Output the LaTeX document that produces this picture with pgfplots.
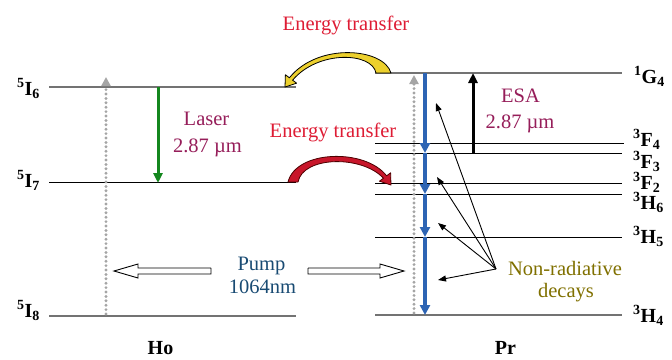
\documentclass[border=0pt]{standalone}
\usepackage{fontspec}
\setmainfont{Liberation Serif}
\usepackage{pgfplots}
\pgfplotsset{compat=1.18}
\usetikzlibrary{arrows.meta}

\definecolor{etred}{RGB}{222,28,52}
\definecolor{laserpurple}{RGB}{150,30,90}
\definecolor{pumpblue}{RGB}{25,75,115}
\definecolor{olivetext}{RGB}{128,112,0}
\definecolor{decayblue}{RGB}{45,100,180}
\definecolor{lasergreen}{RGB}{20,135,30}
\definecolor{dotgray}{RGB}{165,165,165}
\definecolor{levelgray}{RGB}{115,115,115}
\definecolor{sunyellow}{RGB}{236,208,45}
\definecolor{arrowred}{RGB}{200,22,42}

\tikzset{
  txt/.style={font=\fontsize{20.5}{24}\selectfont, inner sep=0pt},
  lbl/.style={font=\fontsize{20}{24}\selectfont\bfseries, inner sep=0pt},
  graylevel/.style={levelgray, line width=1.6pt},
  blacklevel/.style={black, line width=1pt},
  pumpdots/.style={dotgray, line width=3.2pt, line cap=round, dash pattern=on 0pt off 4.4pt,
    -{Triangle[length=9pt,width=9pt,line cap=butt]}},
  decay/.style={decayblue, line width=3.2pt, -{Triangle[length=10pt,width=10pt]}},
  nonrad/.style={black, line width=0.9pt, -{Triangle[length=8pt,width=6pt]}},
}

\begin{document}
\begin{tikzpicture}
\begin{axis}[
  width=672pt, height=359pt, scale only axis,
  xmin=0, xmax=672, ymin=0, ymax=359, y dir=reverse,
  hide axis, clip=false,
]
% ---- Ho energy levels
\addplot[graylevel]  coordinates {(49,87) (296,87)};   % 5I6
\addplot[blacklevel] coordinates {(49,182) (296,182)}; % 5I7
\addplot[graylevel]  coordinates {(49,316) (296,316)}; % 5I8
% ---- Pr energy levels
\addplot[graylevel]  coordinates {(375,73) (622,73)};   % 1G4
\addplot[blacklevel] coordinates {(375,143) (624,143)}; % 3F4
\addplot[blacklevel] coordinates {(375,153) (622,153)}; % 3F3
\addplot[blacklevel] coordinates {(375,183) (622,183)}; % 3F2
\addplot[blacklevel] coordinates {(375,194) (622,194)}; % 3H6
\addplot[blacklevel] coordinates {(375,237) (622,237)}; % 3H5
\addplot[graylevel]  coordinates {(375,315) (622,315)}; % 3H4

% ---- pump absorption (dotted)
\addplot[pumpdots] coordinates {(106,314) (106,77)};
\addplot[pumpdots] coordinates {(414,313) (414,75)};

% ---- laser transition in Ho
\addplot[lasergreen, line width=3pt, -{Triangle[length=10pt,width=9pt]}] coordinates {(158,87) (158,183)};

% ---- cascade of decays in Pr
\addplot[decay] coordinates {(425,73) (425,153)};
\addplot[decay] coordinates {(425,153) (425,194)};
\addplot[decay] coordinates {(425,194) (425,237)};
\addplot[decay] coordinates {(425,237) (425,315)};

% ---- excited state absorption
\addplot[black, line width=3pt, -{Triangle[length=10pt,width=9pt]}] coordinates {(473,153) (473,73)};

% ---- non-radiative decay pointers
\addplot[nonrad] coordinates {(496,269) (436,103)};
\addplot[nonrad] coordinates {(496,269) (437,177)};
\addplot[nonrad] coordinates {(496,269) (438,223)};
\addplot[nonrad] coordinates {(496,269) (438,280)};

% ---- hollow pump arrows
\addplot[black, line width=0.9pt, fill=white] coordinates
  {(211,268) (138,268) (138,264) (114,271) (138,278) (138,274) (211,274) (211,268)};
\addplot[black, line width=0.9pt, fill=white] coordinates
  {(308,268) (380,268) (380,264) (404,271) (380,278) (380,274) (308,274) (308,268)};

% ---- energy transfer arrows (curved)
\filldraw[fill=sunyellow, draw=black, line width=0.8pt, line join=round]
  (391,73) .. controls (384,48) and (318,42) .. (289.4,77.8)
  -- (285.4,74.8) -- (285,87) -- (296.6,83.2) -- (292.6,80.2)
  .. controls (318,50) and (372,52) .. (376,73) -- cycle;
\filldraw[fill=arrowred, draw=black!70!red, line width=0.8pt, line join=round]
  (288,182) .. controls (296,150) and (365,148) .. (386.6,175.8)
  -- (390.6,172.8) -- (391,185) -- (379.4,181.2) -- (383.4,178.2)
  .. controls (362,155) and (303,156) .. (298,182) -- cycle;

% ---- annotations
\node[txt, etred, anchor=base] at (346,30) {Energy transfer};
\node[txt, etred, anchor=base] at (333,137) {Energy transfer};
\node[txt, laserpurple, anchor=base] at (206.5,125) {Laser};
\node[txt, laserpurple, anchor=base] at (207.5,152) {2.87 µm};
\node[txt, laserpurple, anchor=base] at (520.5,102) {ESA};
\node[txt, laserpurple, anchor=base] at (520,128) {2.87 µm};
\node[txt, pumpblue, anchor=base] at (261.5,270) {Pump};
\node[txt, pumpblue, anchor=base] at (262.5,293) {1064nm};
\node[txt, olivetext, anchor=base] at (565,275) {Non-radiative};
\node[txt, olivetext, anchor=base] at (566,297) {decays};

% ---- level labels
\node[lbl, anchor=base west] at (17,95)  {\textsuperscript{5}I\textsubscript{6}};
\node[lbl, anchor=base west] at (17,187) {\textsuperscript{5}I\textsubscript{7}};
\node[lbl, anchor=base west] at (17,317) {\textsuperscript{5}I\textsubscript{8}};
\node[lbl, anchor=base west] at (634,83)  {\textsuperscript{1}G\textsubscript{4}};
\node[lbl, anchor=base west] at (633,146) {\textsuperscript{3}F\textsubscript{4}};
\node[lbl, anchor=base west] at (633,168) {\textsuperscript{3}F\textsubscript{3}};
\node[lbl, anchor=base west] at (633,189) {\textsuperscript{3}F\textsubscript{2}};
\node[lbl, anchor=base west] at (633,209) {\textsuperscript{3}H\textsubscript{6}};
\node[lbl, anchor=base west] at (633,243) {\textsuperscript{3}H\textsubscript{5}};
\node[lbl, anchor=base west] at (633,322) {\textsuperscript{3}H\textsubscript{4}};

% ---- ion names
\node[lbl, anchor=base] at (160.5,354) {Ho};
\node[lbl, anchor=base] at (505.5,354) {Pr};
\end{axis}
\pgfresetboundingbox
\path (current axis.south west) rectangle (current axis.north east);
\end{tikzpicture}
\end{document}
